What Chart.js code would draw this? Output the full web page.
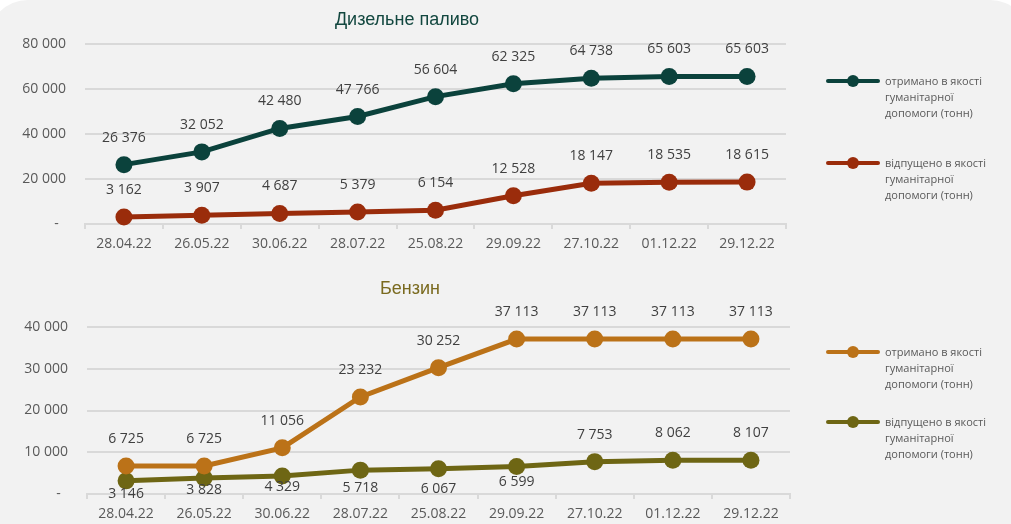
<!DOCTYPE html>
<html>
<head>
<meta charset="utf-8">
<script src="https://cdn.jsdelivr.net/npm/chart.js@4.4.1/dist/chart.umd.min.js"></script>
<style>
  html, body { margin: 0; padding: 0; background: #fff; width: 1011px; height: 524px; overflow: hidden; position: relative; }
  .panel { position: absolute; left: -12px; top: 0; width: 1042px; height: 580px; background: #f2f2f2; border-radius: 40px; }
  .box { position: absolute; left: 0; width: 1011px; height: 262px; }
  .title { position: absolute; font-family: "Liberation Sans", Arial, sans-serif; font-size: 18px; transform: translate(-50%, -50%); white-space: nowrap; }
  .leg { position: absolute; left: 826px; font-family: "Open Sans", sans-serif; font-size: 11px; line-height: 16px; color: #595959; }
  .leg .ln { position: absolute; left: 0; top: 6px; width: 54px; height: 4px; border-radius: 2px; }
  .leg .dot { position: absolute; left: 21px; top: 2px; width: 12px; height: 12px; border-radius: 50%; }
  .leg .txt { margin-left: 59px; white-space: nowrap; }
</style>
</head>
<body>
<div class="panel"></div>

<div class="box" style="top:0"><canvas id="diesel" width="1011" height="262"></canvas></div>
<div class="box" style="top:262px"><canvas id="petrol" width="1011" height="262"></canvas></div>

<div class="title" style="left:407px; top:19px; color:#12473f">Дизельне паливо</div>
<div class="title" style="left:410px; top:288px; color:#7a6a1f">Бензин</div>

<div class="leg" style="top:73px"><div class="ln" style="background:#0b423c"></div><div class="dot" style="background:#0b423c"></div>
  <div class="txt">отримано в якості<br>гуманітарної<br>допомоги (тонн)</div></div>
<div class="leg" style="top:155px"><div class="ln" style="background:#9a2c0b"></div><div class="dot" style="background:#9a2c0b"></div>
  <div class="txt">відпущено в якості<br>гуманітарної<br>допомоги (тонн)</div></div>
<div class="leg" style="top:344px"><div class="ln" style="background:#bb7218"></div><div class="dot" style="background:#bb7218"></div>
  <div class="txt">отримано в якості<br>гуманітарної<br>допомоги (тонн)</div></div>
<div class="leg" style="top:414px"><div class="ln" style="background:#6e6614"></div><div class="dot" style="background:#6e6614"></div>
  <div class="txt">відпущено в якості<br>гуманітарної<br>допомоги (тонн)</div></div>

<script>
const dates = ['28.04.22', '26.05.22', '30.06.22', '28.07.22', '25.08.22', '29.09.22', '27.10.22', '01.12.22', '29.12.22'];

const dieselReceived = [26376, 32052, 42480, 47766, 56604, 62325, 64738, 65603, 65603];
const dieselReleased = [3162, 3907, 4687, 5379, 6154, 12528, 18147, 18535, 18615];
const dieselTicks = [0, 20000, 40000, 60000, 80000];

const petrolReceived = [6725, 6725, 11056, 23232, 30252, 37113, 37113, 37113, 37113];
const petrolReleased = [3146, 3828, 4329, 5718, 6067, 6599, 7753, 8062, 8107];
const petrolTicks = [0, 10000, 20000, 30000, 40000];

const GRID = '#d9d9d9';
const FONT = '"Open Sans", sans-serif';

// "26376" -> "26 376", zero shown as a dash
function fmt(v) {
  if (v === 0) return '-  ';
  return String(v).replace(/\B(?=(\d{3})+(?!\d))/g, ' ');
}

// value labels next to each point, offset given per dataset (number or array)
const valueLabels = {
  id: 'valueLabels',
  afterDatasetsDraw(chart) {
    const ctx = chart.ctx;
    ctx.save();
    ctx.font = '14px ' + FONT;
    ctx.fillStyle = '#404040';
    ctx.textAlign = 'center';
    ctx.textBaseline = 'middle';
    chart.data.datasets.forEach((ds, i) => {
      chart.getDatasetMeta(i).data.forEach((pt, j) => {
        const off = Array.isArray(ds.labelOffset) ? ds.labelOffset[j] : ds.labelOffset;
        ctx.fillText(fmt(ds.data[j]), pt.x, pt.y + off);
      });
    });
    ctx.restore();
  },
};

function series(label, data, color, labelOffset) {
  return {
    label,
    data,
    labelOffset,
    borderColor: color,
    backgroundColor: color,
    borderWidth: 5,
    pointRadius: 8.5,
    pointBorderWidth: 0,
    pointBackgroundColor: color,
    tension: 0,
    clip: false,
  };
}

function createLineChart(canvas, { datasets, ticks, max, pad, xHeight }) {
  return new Chart(canvas.getContext('2d'), {
    type: 'line',
    data: { labels: dates, datasets },
    plugins: [valueLabels],
    options: {
      responsive: false,
      animation: false,
      layout: { padding: pad },
      plugins: {
        legend: { display: false },
        tooltip: { enabled: false },
        title: { display: false },
      },
      scales: {
        x: {
          offset: true,
          afterFit: s => { s.height = xHeight; },
          grid: { offset: true, drawOnChartArea: false, drawTicks: true, tickLength: 5, color: GRID, lineWidth: 2 },
          border: { display: true, color: GRID, width: 2 },
          ticks: { color: '#595959', padding: 7, font: { family: FONT, size: 14 }, maxRotation: 0 },
        },
        y: {
          min: 0,
          max,
          afterFit: s => { s.width = pad.yWidth; },
          afterBuildTicks: s => { s.ticks = ticks.map(v => ({ value: v })); },
          grid: { drawTicks: false, color: GRID, lineWidth: 2 },
          border: { display: false },
          ticks: { color: '#595959', padding: 19, font: { family: FONT, size: 14 }, callback: v => fmt(v) },
        },
      },
    },
  });
}

createLineChart(document.getElementById('diesel'), {
  datasets: [
    series('отримано в якості гуманітарної допомоги (тонн)', dieselReceived, '#0b423c', -27),
    series('відпущено в якості гуманітарної допомоги (тонн)', dieselReleased, '#9a2c0b', -27),
  ],
  ticks: dieselTicks,
  max: 80000,
  pad: { left: 0, right: 225, top: 44, bottom: 0, yWidth: 85 },
  xHeight: 38,
});

createLineChart(document.getElementById('petrol'), {
  datasets: [
    series('отримано в якості гуманітарної допомоги (тонн)', petrolReceived, '#bb7218', -27),
    series('відпущено в якості гуманітарної допомоги (тонн)', petrolReleased, '#6e6614', [13, 12, 11, 18, 20, 16, -27, -27, -27]),
  ],
  ticks: petrolTicks,
  max: 40000,
  pad: { left: 0, right: 221, top: 65, bottom: 0, yWidth: 87 },
  xHeight: 30,
});
</script>
</body>
</html>
